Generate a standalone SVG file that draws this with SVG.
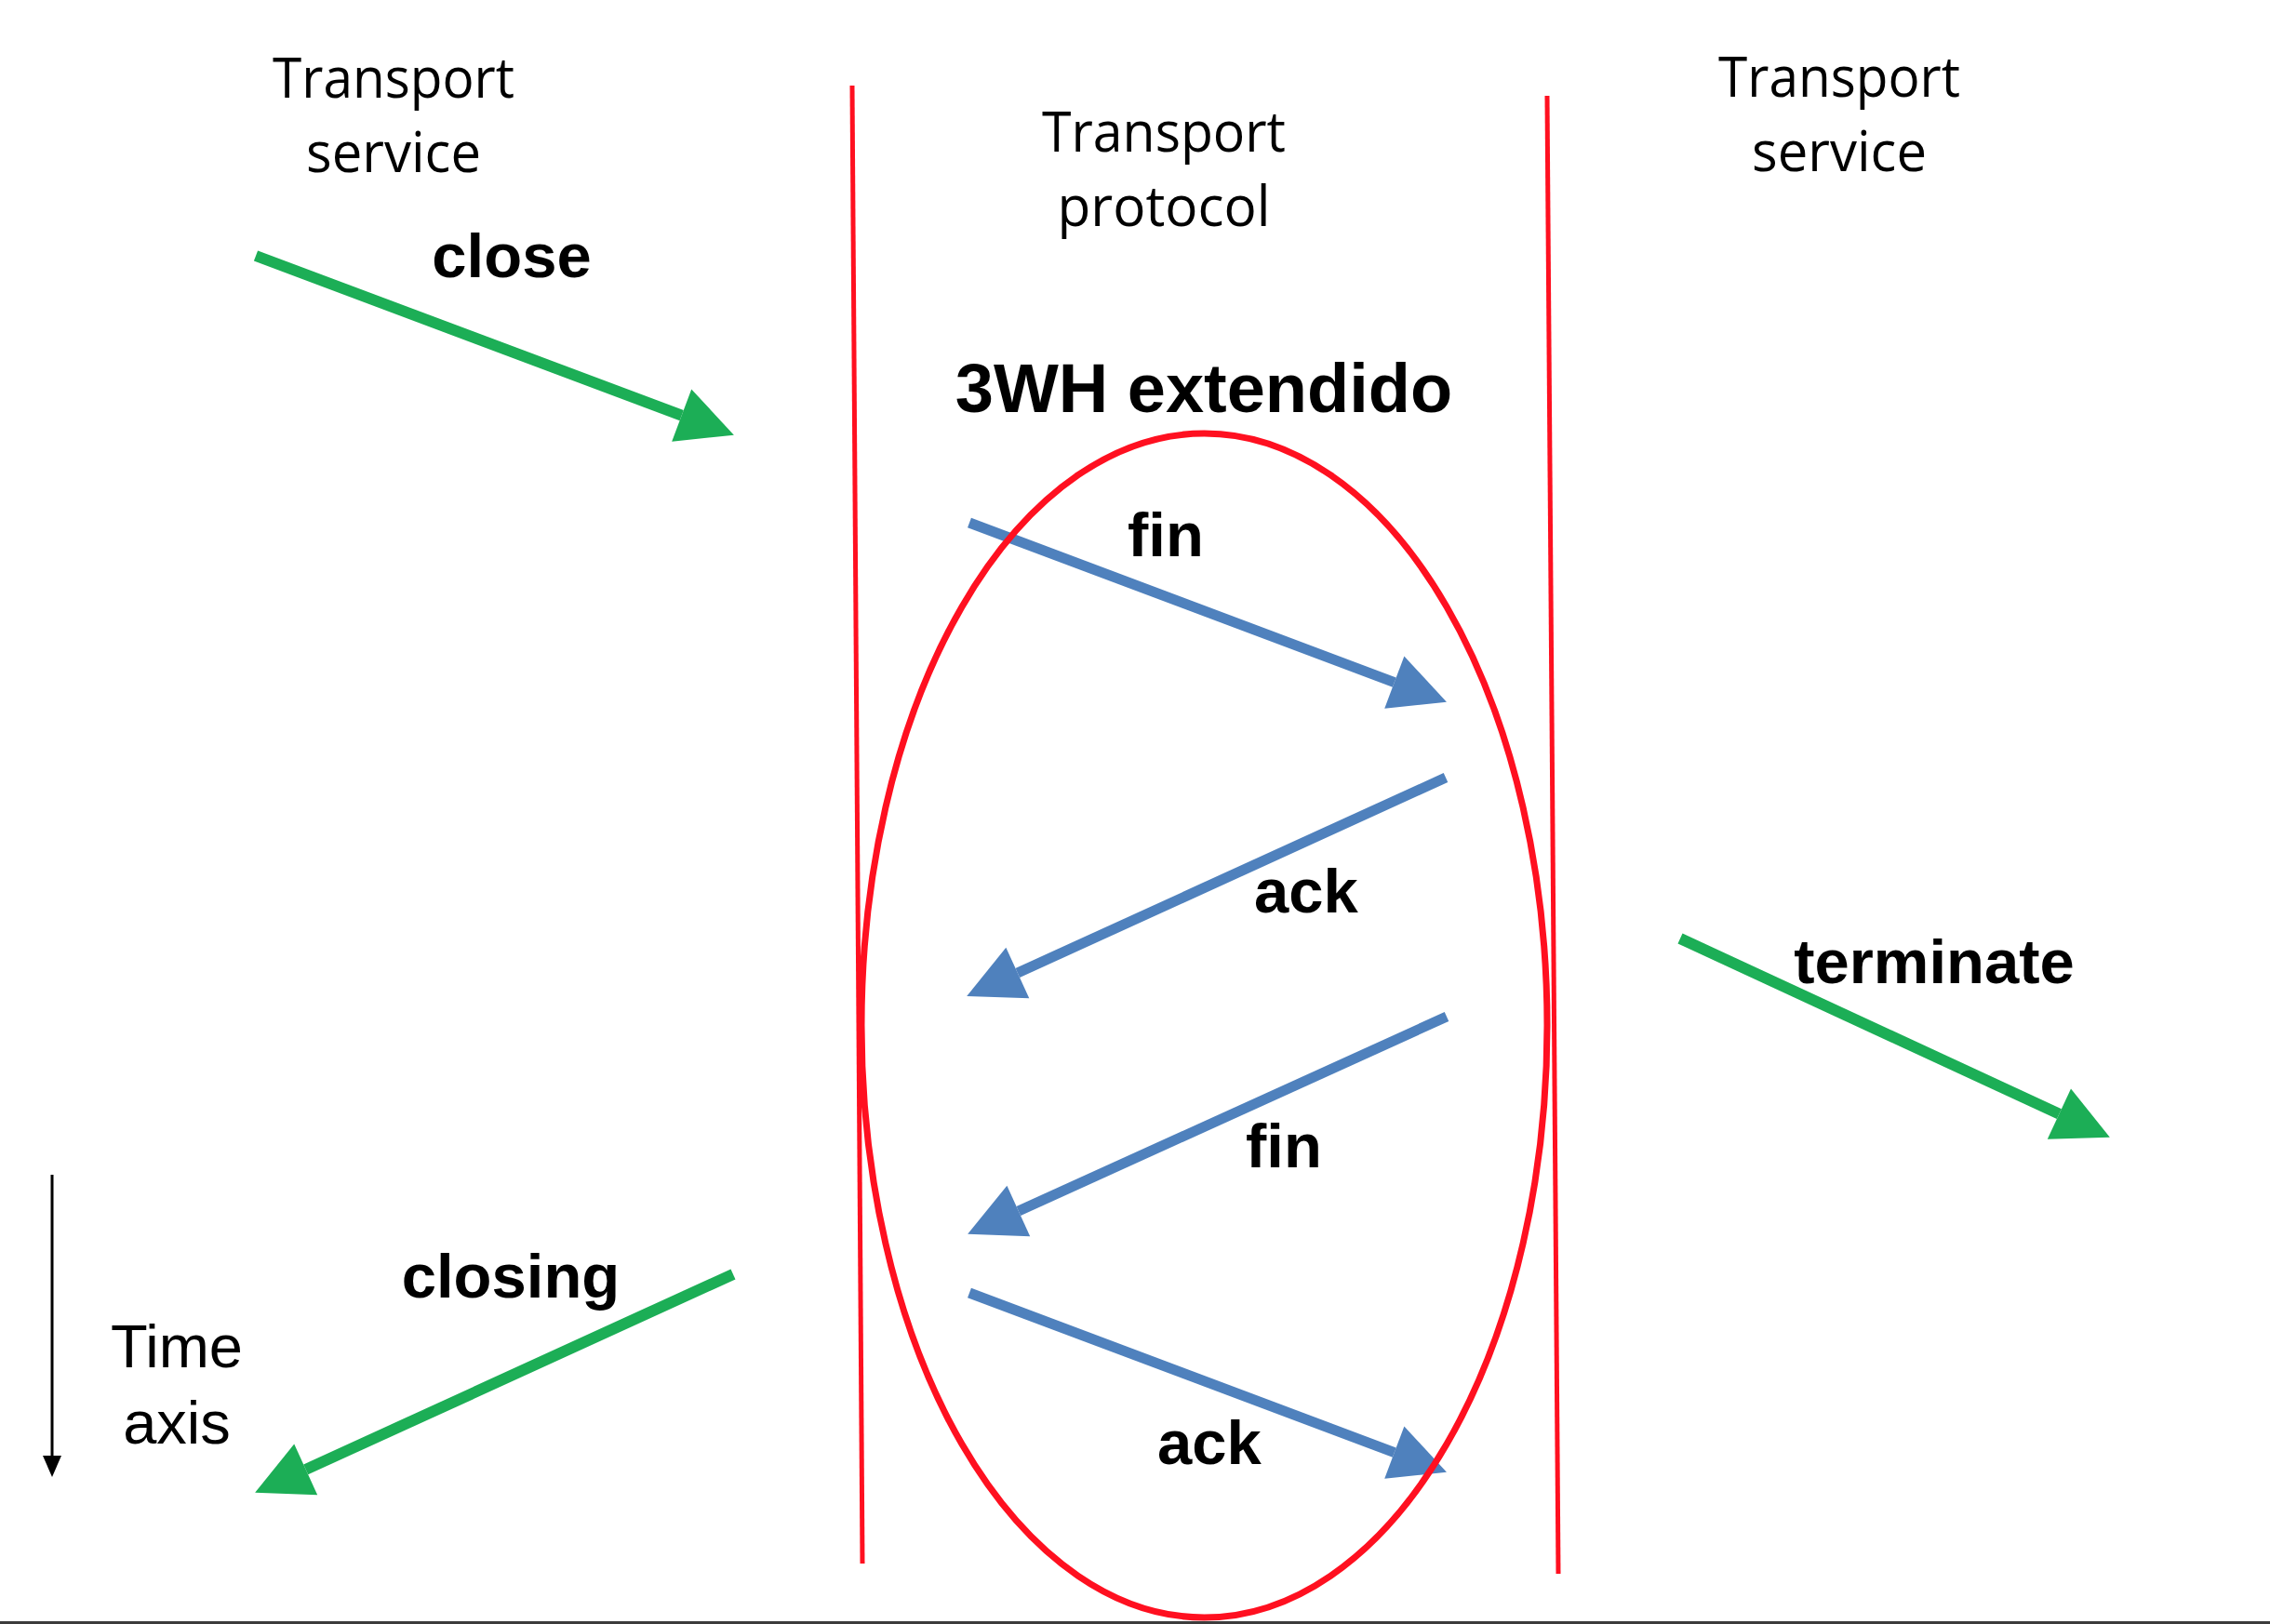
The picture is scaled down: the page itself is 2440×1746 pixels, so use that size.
<svg xmlns="http://www.w3.org/2000/svg" width="2440" height="1746" viewBox="0 0 2440 1746">
  <style>
    .lbl { font-family: "Open Sans", "Noto Sans", sans-serif; font-size: 60px; fill: #000; text-anchor: middle; }
    .bold { font-family: "Liberation Sans", Arial, sans-serif; font-weight: bold; font-size: 67px; fill: #000; text-anchor: middle; }
    .reg { font-family: "Liberation Sans", Arial, sans-serif; font-size: 65px; fill: #000; text-anchor: middle; }
    .green { stroke: #1cae56; stroke-width: 12; fill: none; }
    .blue { stroke: #4f81bd; stroke-width: 11; fill: none; }
    .red { stroke: #ff1020; fill: none; }
  </style>
  <defs>
    <marker id="headGreen" markerUnits="userSpaceOnUse" viewBox="0 -31 64 62" refX="0" refY="0" markerWidth="64" markerHeight="62" orient="auto" overflow="visible">
      <path d="M0,-30 L60,0 L0,30 Z" fill="#1cae56"/>
    </marker>
    <marker id="headBlue" markerUnits="userSpaceOnUse" viewBox="0 -31 64 62" refX="0" refY="0" markerWidth="64" markerHeight="62" orient="auto" overflow="visible">
      <path d="M0,-30 L60,0 L0,30 Z" fill="#4f81bd"/>
    </marker>
    <marker id="headBlack" markerUnits="userSpaceOnUse" viewBox="0 -11 24 22" refX="0" refY="0" markerWidth="24" markerHeight="22" orient="auto" overflow="visible">
      <path d="M0,-10 L23,0 L0,10 Z" fill="#000"/>
    </marker>
  </defs>
  <rect x="0" y="0" width="2440" height="1746" fill="#ffffff"/>

  <g id="connectors">
    <line id="arrow-close" class="green" x1="275" y1="275" x2="732.7" y2="446.6" marker-end="url(#headGreen)"/>
    <line id="arrow-closing" class="green" x1="788" y1="1370" x2="328.7" y2="1579.9" marker-end="url(#headGreen)"/>
    <line id="arrow-terminate" class="green" x1="1806" y1="1009" x2="2213.4" y2="1197.6" marker-end="url(#headGreen)"/>
    <line id="arrow-fin1" class="blue" x1="1042" y1="562" x2="1498.8" y2="733.6" marker-end="url(#headBlue)"/>
    <line id="arrow-ack1" class="blue" x1="1554" y1="836" x2="1093.8" y2="1046" marker-end="url(#headBlue)"/>
    <line id="arrow-fin2" class="blue" x1="1555" y1="1093" x2="1094.8" y2="1302" marker-end="url(#headBlue)"/>
    <line id="arrow-ack2" class="blue" x1="1042" y1="1390" x2="1498.8" y2="1561.6" marker-end="url(#headBlue)"/>
    <line id="time-axis-arrow" x1="56" y1="1263" x2="56" y2="1565" stroke="#000" stroke-width="3" marker-end="url(#headBlack)"/>
  </g>

  <g id="ellipse-3wh">
    <ellipse class="red" cx="1294.5" cy="1102.5" rx="368.5" ry="636.5" stroke-width="7"/>
  </g>
  <g id="boundary-left">
    <line class="red" x1="916" y1="92" x2="927" y2="1681" stroke-width="5"/>
  </g>
  <g id="boundary-right">
    <line class="red" x1="1663" y1="103" x2="1675" y2="1692" stroke-width="5"/>
  </g>

  <g id="transport-service-left">
    <text class="lbl" x="423" y="105" textLength="260" lengthAdjust="spacingAndGlyphs">Transport</text>
    <text class="lbl" x="423" y="185" textLength="188" lengthAdjust="spacingAndGlyphs">service</text>
  </g>
  <g id="transport-protocol">
    <text class="lbl" x="1251" y="163" textLength="262" lengthAdjust="spacingAndGlyphs">Transport</text>
    <text class="lbl" x="1251" y="243" textLength="229" lengthAdjust="spacingAndGlyphs">protocol</text>
  </g>
  <g id="transport-service-right">
    <text class="lbl" x="1977" y="104" textLength="260" lengthAdjust="spacingAndGlyphs">Transport</text>
    <text class="lbl" x="1977" y="184" textLength="188" lengthAdjust="spacingAndGlyphs">service</text>
  </g>
  <g id="title-3wh">
    <text class="bold" x="1294" y="443" style="font-size:74px">3WH extendido</text>
  </g>
  <g id="label-close"><text class="bold" x="550" y="298">close</text></g>
  <g id="label-closing"><text class="bold" x="549" y="1395">closing</text></g>
  <g id="label-terminate"><text class="bold" x="2079" y="1057">terminate</text></g>
  <g id="label-fin1"><text class="bold" x="1253" y="598">fin</text></g>
  <g id="label-ack1"><text class="bold" x="1404" y="981">ack</text></g>
  <g id="label-fin2"><text class="bold" x="1380" y="1255">fin</text></g>
  <g id="label-ack2"><text class="bold" x="1300" y="1574">ack</text></g>
  <g id="time-axis">
    <text class="reg" x="190" y="1470">Time</text>
    <text class="reg" x="190" y="1552">axis</text>
  </g>
  <rect x="0" y="1743" width="2440" height="3" fill="#3c3c3c"/>
</svg>
